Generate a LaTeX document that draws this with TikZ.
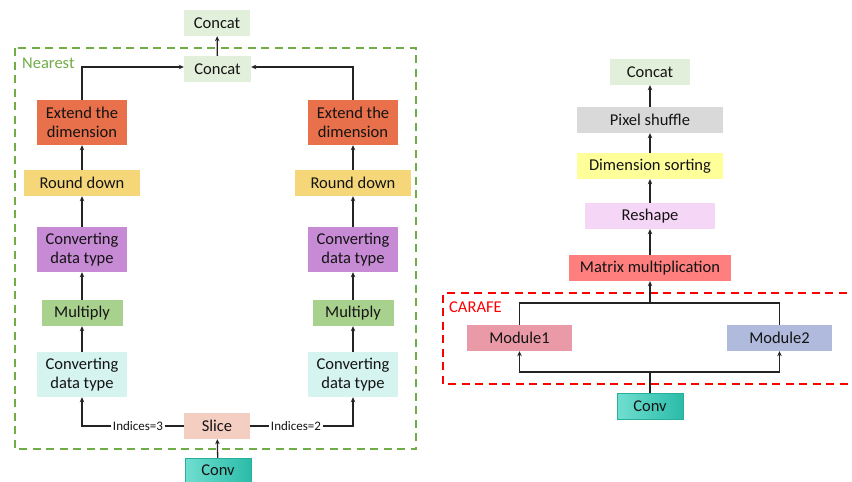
\documentclass[tikz,border=0pt]{standalone}
\usepackage{fontspec}
\setmainfont{Carlito}
\usetikzlibrary{arrows.meta,positioning,calc}
\definecolor{concatc}{RGB}{226,239,218}
\definecolor{extc}{RGB}{232,112,74}
\definecolor{roundc}{RGB}{245,215,122}
\definecolor{purplec}{RGB}{199,138,212}
\definecolor{multc}{RGB}{169,209,142}
\definecolor{cyanc}{RGB}{213,243,239}
\definecolor{slicec}{RGB}{245,206,194}
\definecolor{convl}{RGB}{112,222,208}
\definecolor{convr}{RGB}{42,188,168}
\definecolor{convb}{RGB}{40,175,155}
\definecolor{grayc}{RGB}{217,217,217}
\definecolor{yelc}{RGB}{255,255,153}
\definecolor{reshc}{RGB}{246,214,246}
\definecolor{matc}{RGB}{255,127,127}
\definecolor{mod1c}{RGB}{234,154,166}
\definecolor{mod2c}{RGB}{176,186,220}
\definecolor{greend}{RGB}{112,173,71}
\definecolor{linec}{RGB}{35,35,35}
\definecolor{txtc}{RGB}{20,20,20}
\tikzset{
  box/.style={inner sep=0pt, align=center, text=txtc, font=\fontsize{16.5}{19.5}\selectfont},
  conn/.style={draw=linec, line width=1.3pt},
  arr/.style={conn, -{Stealth[length=5pt,width=4.5pt]}},
  lbl/.style={fill=white, inner sep=1.5pt, text=txtc, font=\fontsize{13}{15}\selectfont},
  grp/.style={line width=1.8pt, dash pattern=on 8pt off 5.5pt},
}
\begin{document}
\begin{tikzpicture}[x=1pt,y=-1pt]
\useasboundingbox (0,0) rectangle (852,482);
% ---------- left: Nearest ----------
\draw[grp, draw=greend] (15,48) rectangle (416,449);
\node[anchor=west, text=greend, font=\fontsize{16.5}{18}\selectfont, inner sep=0pt] (nearest) at (22,63) {Nearest};

\node[box, fill=concatc, minimum width=66pt, minimum height=26pt] (lc1) at (217,23) {Concat};
\node[box, fill=concatc, minimum width=67pt, minimum height=26pt] (lc2) at (217.5,69) {Concat};

\node[box, fill=extc, minimum width=90pt, minimum height=45pt] (le) at (82,122.5) {Extend the\\dimension};
\node[box, fill=extc, minimum width=90pt, minimum height=45pt] (re) at (353,122.5) {Extend the\\dimension};
\node[box, fill=roundc, minimum width=116pt, minimum height=26pt] (lr) at (82,183) {Round down};
\node[box, fill=roundc, minimum width=116pt, minimum height=26pt] (rr) at (353,183) {Round down};
\node[box, fill=purplec, minimum width=90pt, minimum height=45pt] (lp) at (82,249.5) {Converting\\data type};
\node[box, fill=purplec, minimum width=90pt, minimum height=45pt] (rp) at (353,249.5) {Converting\\data type};
\node[box, fill=multc, minimum width=81pt, minimum height=26pt] (lm) at (82,313) {Multiply};
\node[box, fill=multc, minimum width=81pt, minimum height=26pt] (rm) at (353,313) {Multiply};
\node[box, fill=cyanc, minimum width=90pt, minimum height=45pt] (lcv) at (82,374.5) {Converting\\data type};
\node[box, fill=cyanc, minimum width=90pt, minimum height=45pt] (rcv) at (353,374.5) {Converting\\data type};
\node[box, fill=slicec, minimum width=66pt, minimum height=26pt] (slice) at (217,426) {Slice};
\node[box, left color=convl, right color=convr, draw=convb, line width=0.5pt, minimum width=66pt, minimum height=24pt] (lconv) at (218,470) {Conv};

\draw[arr] (lc2) -- (lc1);
\draw[arr] (le.north) |- ([yshift=2pt]lc2.west);
\draw[arr] (re.north) |- ([yshift=2pt]lc2.east);
\draw[arr] (lr) -- (le);
\draw[arr] (rr) -- (re);
\draw[arr] (lp) -- (lr);
\draw[arr] (rp) -- (rr);
\draw[arr] (lm) -- (lp);
\draw[arr] (rm) -- (rp);
\draw[arr] (lcv) -- (lm);
\draw[arr] (rcv) -- (rm);
\draw[arr] (lconv) -- (slice);
\coordinate (lcorner) at (lcv.south |- slice.west);
\coordinate (rcorner) at (rcv.south |- slice.east);
\draw[arr] (slice.west) -- (lcorner) -- (lcv.south);
\draw[arr] (slice.east) -- (rcorner) -- (rcv.south);
\node[lbl] (ind3) at (138,426) {Indices=3};
\node[lbl] (ind2) at (296,426) {Indices=2};

% ---------- right: CARAFE ----------
\draw[grp, draw=red] (860,293) -- (443,293) -- (443,384) -- (860,384);
\node[anchor=west, text=red, font=\fontsize{16.5}{18}\selectfont, inner sep=0pt] (carafe) at (449,307) {CARAFE};

\node[box, fill=concatc, minimum width=80pt, minimum height=26pt] (rc) at (650,72) {Concat};
\node[box, fill=grayc, minimum width=146pt, minimum height=26pt] (ps) at (650,120) {Pixel shuffle};
\node[box, fill=yelc, minimum width=146pt, minimum height=26pt] (ds) at (650,166) {Dimension sorting};
\node[box, fill=reshc, minimum width=130pt, minimum height=26pt] (rs) at (650,216) {Reshape};
\node[box, fill=matc, minimum width=162pt, minimum height=26pt] (mm) at (650,268) {Matrix multiplication};
\node[box, fill=mod1c, minimum width=105pt, minimum height=26pt] (m1) at (519.5,338) {Module1};
\node[box, fill=mod2c, minimum width=105pt, minimum height=26pt] (m2) at (779.5,338) {Module2};
\node[box, left color=convl, right color=convr, draw=convb, line width=0.5pt, minimum width=66pt, minimum height=26pt] (rconv) at (650,406) {Conv};

\draw[arr] (ps) -- (rc);
\draw[arr] (ds) -- (ps);
\draw[arr] (rs) -- (ds);
\draw[arr] (mm) -- (rs);
\coordinate (topj) at (650,303);
\coordinate (botj) at (650,372);
\draw[conn] (m1.north) |- (topj) -| (m2.north);
\draw[arr] (topj) -- (mm.south);
\draw[conn] (rconv.north) -- (botj);
\draw[arr] (botj) -| (m1.south);
\draw[arr] (botj) -| (m2.south);
\end{tikzpicture}
\end{document}
